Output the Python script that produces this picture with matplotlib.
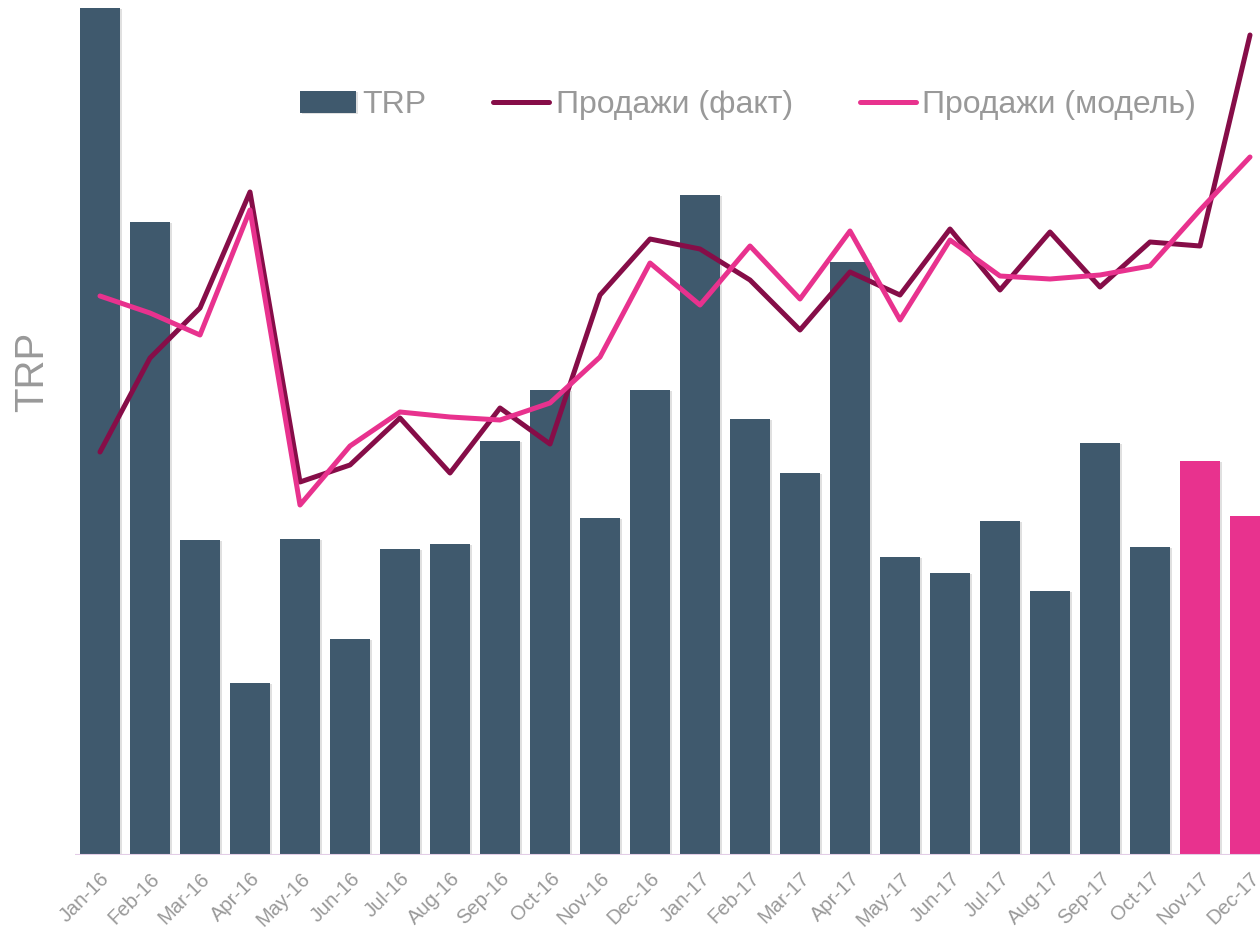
import matplotlib
matplotlib.use('Agg')
import matplotlib.pyplot as plt
import matplotlib.patheffects as pe
import numpy as np

months = ['Jan-16', 'Feb-16', 'Mar-16', 'Apr-16', 'May-16', 'Jun-16', 'Jul-16', 'Aug-16',
          'Sep-16', 'Oct-16', 'Nov-16', 'Dec-16', 'Jan-17', 'Feb-17', 'Mar-17', 'Apr-17',
          'May-17', 'Jun-17', 'Jul-17', 'Aug-17', 'Sep-17', 'Oct-17', 'Nov-17', 'Dec-17']

trp = [847, 633, 315, 172, 316, 216, 306, 311, 414, 465, 337, 465,
       660, 436, 382, 593, 298, 282, 334, 264, 412, 308, 394, 339]

sales_fact = [403, 497, 547, 663, 373, 390, 437, 382, 447, 411, 560, 616,
              606, 575, 525, 583, 560, 626, 565, 623, 568, 613, 609, 820]

sales_model = [559, 542, 520, 645, 350, 409, 443, 438, 435, 452, 498, 592,
               550, 609, 556, 624, 535, 615, 579, 576, 580, 589, 645, 698]

bar_col = '#3F596D'
pink = '#E8328E'
maroon = '#860D48'
gray = '#999999'

plt.rcParams['font.family'] = ['Liberation Sans', 'DejaVu Sans']

fig = plt.figure(figsize=(12.6, 9.32), dpi=100)
ax = fig.add_axes([75 / 1260, 77 / 932, 1200 / 1260, 855 / 932])

x = np.arange(len(months))
colors = [bar_col] * 22 + [pink] * 2
bars = ax.bar(x, trp, width=0.8, color=colors, label='TRP', zorder=2)
for b in bars:
    b.set_path_effects([pe.SimplePatchShadow(offset=(1.5, -1), shadow_rgbFace='#000000', alpha=0.12),
                        pe.Normal()])
ax.set_xlim(-0.5, len(months) - 0.5)
ax.set_ylim(0, 855)

ax2 = ax.twinx()
ax2.set_ylim(0, 855)
l1, = ax2.plot(x, sales_fact, color=maroon, lw=3.6, label='Продажи (факт)',
               solid_capstyle='round', solid_joinstyle='round')
l2, = ax2.plot(x, sales_model, color=pink, lw=3.6, label='Продажи (модель)',
               solid_capstyle='round', solid_joinstyle='round')

for a in (ax, ax2):
    for s in a.spines.values():
        s.set_visible(False)
    a.set_yticks([])
ax.axhline(0, color='#E3CDE6', lw=1.5, zorder=3)

ax.set_xticks(x)
ax.set_xticklabels(months, rotation=45, ha='right', rotation_mode='anchor',
                   color=gray, fontsize=14.5)
ax.tick_params(axis='x', length=0, pad=10)

fig.text(32 / 1260, 1 - 372 / 932, 'TRP', rotation=90, color=gray, fontsize=29,
         ha='center', va='center')

leg = ax2.legend([bars, l1, l2], ['TRP', 'Продажи (факт)', 'Продажи (модель)'],
                 loc='center', bbox_to_anchor=(748 / 1260, 1 - 105 / 932),
                 bbox_transform=fig.transFigure, ncol=3, frameon=False,
                 fontsize=23, labelcolor=gray, handlelength=1.75, handletextpad=0.2,
                 columnspacing=2.1)

fig.savefig('out.png', dpi=100)
